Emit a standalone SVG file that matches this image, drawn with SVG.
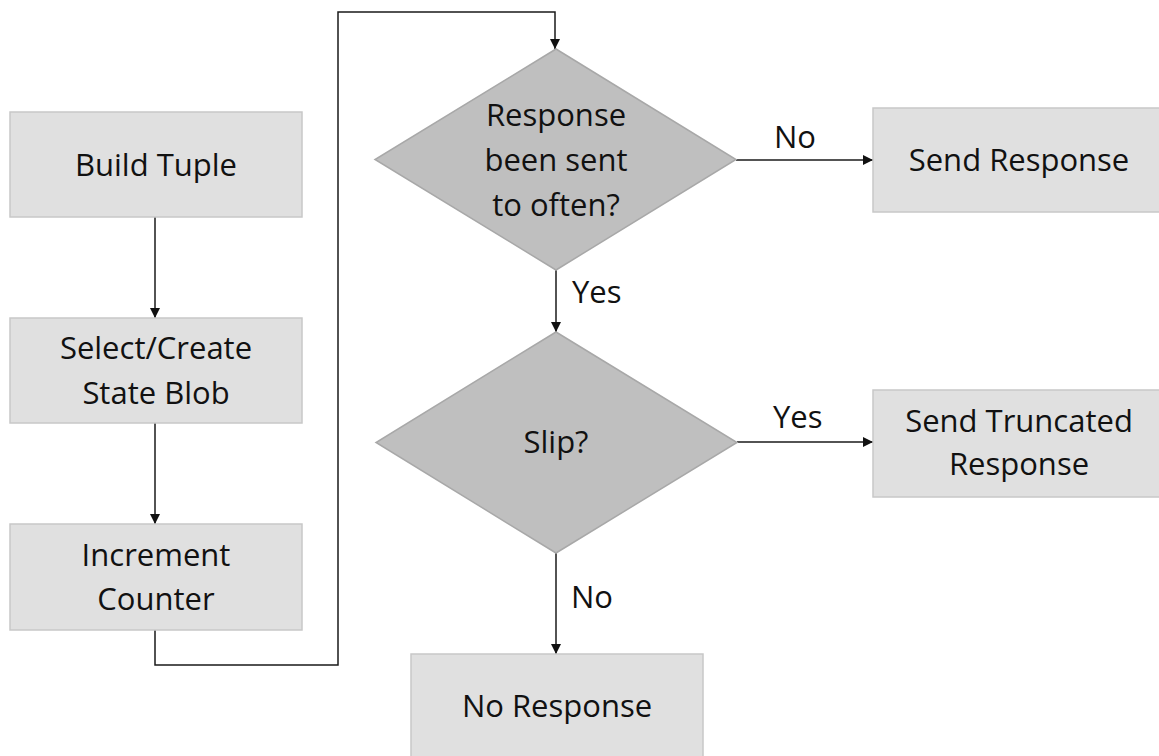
<svg xmlns="http://www.w3.org/2000/svg" width="1159" height="756" viewBox="0 0 1159 756">
<style>
.box{fill:#e0e0e0;stroke:#c8c8c8;stroke-width:1.5}
.dia{fill:#bfbfbf;stroke:#a8a8a8;stroke-width:1.5}
.t{font-family:"Open Sans","Liberation Sans",sans-serif;font-size:31px;fill:#111;text-anchor:middle}
.lbl{font-family:"Open Sans","Liberation Sans",sans-serif;font-size:31px;fill:#111}
.c{fill:none;stroke:#1a1a1a;stroke-width:1.5;marker-end:url(#ah)}
</style>
<defs>
<marker id="ah" markerUnits="userSpaceOnUse" markerWidth="12" markerHeight="12" refX="10" refY="5" orient="auto">
<path d="M0,0 L10,5 L0,10 z" fill="#111"/>
</marker>
</defs>
<rect width="1159" height="756" fill="#ffffff"/>
<g id="connectors">
<path class="c" d="M155,217 V318"/>
<path class="c" d="M155,423 V524"/>
<path class="c" d="M155,630 V665 H338 V12 H555 V49"/>
<path class="c" d="M736,160 H873"/>
<path class="c" d="M556,270 V332"/>
<path class="c" d="M737,442 H873"/>
<path class="c" d="M556,552 V654"/>
<text class="lbl" x="774" y="148">No</text>
<text class="lbl" x="572" y="303">Yes</text>
<text class="lbl" x="773" y="428">Yes</text>
<text class="lbl" x="571" y="608">No</text>
</g>
<g id="build-tuple">
<rect class="box" x="10" y="112" width="292" height="105"/>
<text class="t" x="156" y="176">Build Tuple</text>
</g>
<g id="select-create">
<rect class="box" x="10" y="318" width="292" height="105"/>
<text class="t" x="156" y="359">Select/Create</text>
<text class="t" x="156" y="404">State Blob</text>
</g>
<g id="increment-counter">
<rect class="box" x="10" y="524" width="292" height="106"/>
<text class="t" x="156" y="566">Increment</text>
<text class="t" x="156" y="610">Counter</text>
</g>
<g id="decision-often">
<polygon class="dia" points="556,49 736,159.5 556,270 375,159.5"/>
<text class="t" x="556" y="126">Response</text>
<text class="t" x="556" y="171">been sent</text>
<text class="t" x="556" y="216">to often?</text>
</g>
<g id="send-response">
<rect class="box" x="873" y="108" width="300" height="104"/>
<text class="t" x="1019" y="171">Send Response</text>
</g>
<g id="decision-slip">
<polygon class="dia" points="556,332 737,442.5 556,553 376,442.5"/>
<text class="t" x="556" y="453">Slip?</text>
</g>
<g id="send-truncated">
<rect class="box" x="873" y="390" width="300" height="107"/>
<text class="t" x="1019" y="432">Send Truncated</text>
<text class="t" x="1019" y="475">Response</text>
</g>
<g id="no-response">
<rect class="box" x="411" y="654" width="292" height="110"/>
<text class="t" x="557" y="717">No Response</text>
</g>
</svg>
